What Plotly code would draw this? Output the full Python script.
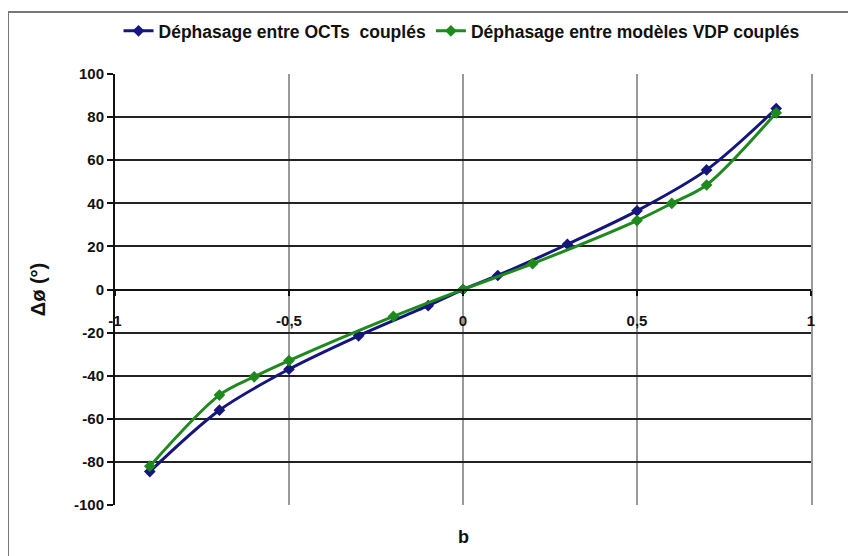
import plotly.graph_objects as go

# Data
b_oct = [-0.9, -0.7, -0.5, -0.3, -0.1, 0.0, 0.1, 0.3, 0.5, 0.7, 0.9]
dphi_oct = [-84.5, -56, -37, -21.5, -7.5, 0, 6.5, 21, 36.5, 55.5, 84]

b_vdp = [-0.9, -0.7, -0.6, -0.5, -0.2, 0.0, 0.2, 0.5, 0.6, 0.7, 0.9]
dphi_vdp = [-82, -49, -40.5, -33, -12.5, 0, 12, 32, 40, 48.5, 82]

name_oct = "Déphasage entre OCTs  couplés"
name_vdp = "Déphasage entre modèles VDP couplés"

x_tickvals = [-1, -0.5, 0, 0.5, 1]
x_ticktext = ["-1", "-0,5", "0", "0,5", "1"]
y_tickvals = [-100, -80, -60, -40, -20, 0, 20, 40, 60, 80, 100]
y_ticktext = ["-100", "-80", "-60", "-40", "-20", "0", "20", "40", "60", "80", "100"]

BLUE = "#15157e"
GREEN = "#1e8a1e"
FONT = "Liberation Sans, Arial, sans-serif"

fig = go.Figure()
fig.add_trace(go.Scatter(
    x=b_oct, y=dphi_oct, name=name_oct, mode="lines+markers",
    line=dict(color=BLUE, width=3, shape="spline", smoothing=0.9),
    marker=dict(symbol="diamond", size=9, color=BLUE),
))
fig.add_trace(go.Scatter(
    x=b_vdp, y=dphi_vdp, name=name_vdp, mode="lines+markers",
    line=dict(color=GREEN, width=3, shape="spline", smoothing=0.9),
    marker=dict(symbol="diamond", size=9, color=GREEN),
))
# invisible trace on the right axis to draw the plot-area right border
fig.add_trace(go.Scatter(x=[None], y=[None], yaxis="y2", showlegend=False, hoverinfo="skip"))

# the page body adds an 8px offset, so the figure is 8px smaller than the window
fig.update_layout(
    width=848, height=548,
    margin=dict(l=107, r=45, t=66, b=51, autoexpand=False),
    paper_bgcolor="white", plot_bgcolor="white",
    font=dict(family=FONT, size=15, color="#111111"),
    showlegend=True,
    legend=dict(orientation="h", x=0.4986, xanchor="center", y=1.0998, yanchor="middle",
                font=dict(family=FONT, size=17.5, color="#111111", weight="bold"),
                itemwidth=30, tracegroupgap=0, bgcolor="rgba(0,0,0,0)"),
    xaxis=dict(
        range=[-1, 1], tickvals=x_tickvals, ticktext=x_ticktext,
        anchor="free", position=0.5,
        showline=True, linecolor="#111111", linewidth=2,
        showgrid=True, gridcolor="#9a9a9a", gridwidth=1.5,
        zeroline=False,
        ticks="outside", ticklen=5, tickcolor="#111111", tickwidth=1.5,
        ticklabelstandoff=12,
        tickfont=dict(family=FONT, size=15, color="#111111", weight="bold"),
    ),
    yaxis=dict(
        range=[-100, 100], tickvals=y_tickvals, ticktext=y_ticktext,
        showline=True, linecolor="#111111", linewidth=2,
        showgrid=True, gridcolor="#222222", gridwidth=2,
        zeroline=False,
        ticks="outside", ticklen=6, tickcolor="#111111", tickwidth=1.5,
        tickfont=dict(family=FONT, size=15, color="#111111", weight="bold"),
        title=dict(text="Δø (°)", standoff=23,
                   font=dict(family=FONT, size=20, color="#111111", weight="bold")),
    ),
    yaxis2=dict(
        overlaying="y", side="right", range=[-100, 100],
        showline=True, linecolor="#9a9a9a", linewidth=1.5,
        showgrid=False, zeroline=False, showticklabels=False, ticks="",
    ),
    annotations=[dict(text="b", xref="paper", yref="paper", x=0.5, y=-0.075,
                      xanchor="center", yanchor="middle", showarrow=False,
                      font=dict(family=FONT, size=18, color="#111111", weight="bold"))],
    shapes=[dict(type="rect", xref="paper", yref="paper",
                 x0=-0.1537, y0=-0.2, x1=1.2, y1=1.1439,
                 line=dict(color="#777777", width=2), layer="below")],
)

fig.write_html("out.html")
